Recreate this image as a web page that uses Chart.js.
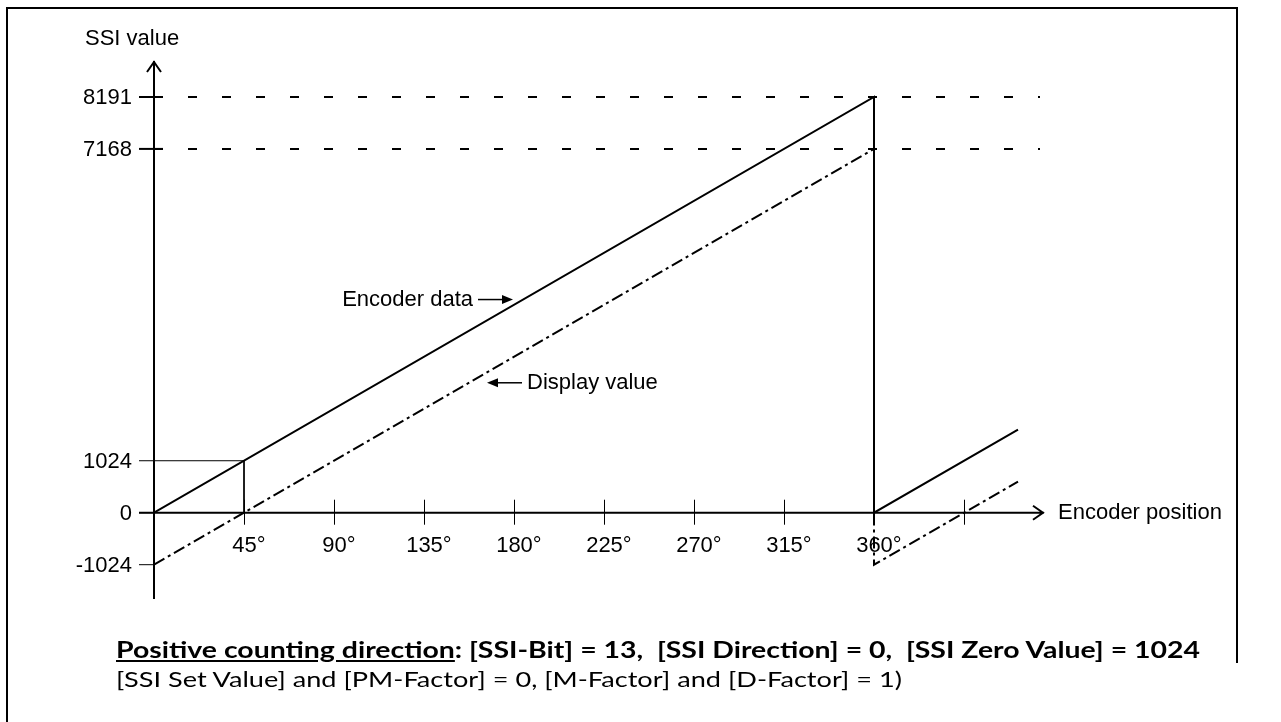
<!DOCTYPE html>
<html>
<head>
<meta charset="utf-8">
<script src="https://cdn.jsdelivr.net/npm/chart.js@4.4.0/dist/chart.umd.min.js"></script>
<style>
  html, body { margin: 0; padding: 0; background: #fff; }
  #wrap { position: relative; width: 1281px; height: 722px; overflow: hidden; }
  #box { position: absolute; left: 0; top: 0; width: 1281px; height: 722px; }
  .cap { position: absolute; left: 116px; white-space: nowrap; color: #000; line-height: normal;
         font-family: Lato, "Open Sans", sans-serif; transform-origin: 0 0; }
</style>
</head>
<body>
<div id="wrap">
  <div id="box"><canvas id="chart"></canvas></div>
  <div class="cap" id="cap1" data-w="1084" style="top:635px;font-size:23px;font-weight:bold"><u>Positive counting direction</u>: [SSI-Bit] = 13,&nbsp; [SSI Direction] = 0,&nbsp; [SSI Zero Value] = 1024</div>
  <div class="cap" id="cap2" data-w="786" style="top:665px;font-size:22px">[SSI Set Value] and [PM-Factor] = 0, [M-Factor] and [D-Factor] = 1)</div>
</div>
<script>
// tick values
const angleTicks = [45, 90, 135, 180, 225, 270, 315, 360];
const extraAngleTicks = [405];
const ssiTicks = [-1024, 0, 1024, 7168, 8191];

// series
const encoderX = [0, 360, 360, 432];
const encoderY = [0, 8191, 0, 1638];
const displayX = [0, 360, 360, 432];
const displayY = [-1024, 7168, -1024, 614];
const markX = [0, 45, 45];
const markY = [1024, 1024, 0];
const limitX = [0, 443];
const limitValues = [8191, 7168];

const pts = (xs, ys) => xs.map((x, i) => ({ x: x, y: ys[i] }));
const FONT = '22px "Liberation Sans", Arial, sans-serif';

const limitSets = limitValues.map(v => ({
  data: pts(limitX, limitX.map(() => v)),
  borderColor: '#000', borderWidth: 2, borderDash: [9, 25]
}));

// axes, ticks, labels and annotations
const diagram = {
  id: 'diagram',
  beforeDatasetsDraw(chart) {
    const { ctx, chartArea: a, scales: { x, y } } = chart;
    const x0 = x.getPixelForValue(0), y0 = y.getPixelForValue(0);
    ctx.save();
    ctx.strokeStyle = '#000';
    ctx.fillStyle = '#000';

    // frame
    ctx.lineWidth = 2;
    ctx.beginPath();
    ctx.moveTo(7, 722); ctx.lineTo(7, 8); ctx.lineTo(1237, 8); ctx.lineTo(1237, 663);
    ctx.stroke();

    // y axis with arrow
    ctx.lineWidth = 2;
    ctx.beginPath();
    ctx.moveTo(x0, a.bottom); ctx.lineTo(x0, a.top);
    ctx.moveTo(x0 - 7, a.top + 11); ctx.lineTo(x0, a.top + 1); ctx.lineTo(x0 + 7, a.top + 11);
    ctx.stroke();

    // x axis with arrow
    ctx.beginPath();
    ctx.moveTo(x0 - 15, y0); ctx.lineTo(a.right, y0);
    ctx.moveTo(a.right - 11, y0 - 7); ctx.lineTo(a.right - 1, y0); ctx.lineTo(a.right - 11, y0 + 7);
    ctx.stroke();

    // y ticks + labels
    ctx.font = FONT;
    ctx.textAlign = 'right';
    ctx.textBaseline = 'middle';
    ssiTicks.forEach(v => {
      const py = y.getPixelForValue(v);
      ctx.lineWidth = v >= 7168 ? 2 : 1;
      ctx.beginPath();
      ctx.moveTo(x0 - 15, py); ctx.lineTo(v >= 7168 ? x0 + 9 : x0, py);
      ctx.stroke();
      ctx.fillText(String(v), x0 - 22, py + 1);
    });

    // x ticks + labels
    ctx.lineWidth = 1;
    ctx.textAlign = 'left';
    ctx.textBaseline = 'alphabetic';
    angleTicks.concat(extraAngleTicks).forEach(v => {
      const px = Math.round(x.getPixelForValue(v)) + 0.5;
      ctx.beginPath();
      ctx.moveTo(px, y0 - 13); ctx.lineTo(px, y0 + 12);
      ctx.stroke();
      if (angleTicks.includes(v)) {
        const dw = ctx.measureText(String(v)).width;
        ctx.fillText(v + '°', px - dw / 2, y0 + 39);
      }
    });

    // axis titles
    ctx.fillText('SSI value', 85, 45);
    ctx.textBaseline = 'middle';
    ctx.fillText('Encoder position', a.right + 14, y0);

    // annotations
    const arrow = (fromX, toX, py) => {
      const dir = Math.sign(toX - fromX);
      ctx.lineWidth = 1.5;
      ctx.beginPath();
      ctx.moveTo(fromX, py); ctx.lineTo(toX - dir * 8, py);
      ctx.stroke();
      ctx.beginPath();
      ctx.moveTo(toX, py); ctx.lineTo(toX - dir * 11, py - 4.5); ctx.lineTo(toX - dir * 11, py + 4.5);
      ctx.closePath(); ctx.fill();
    };
    const ex = x.getPixelForValue(179.5), ey = y.getPixelForValue(4200);
    arrow(ex - 35, ex, ey);
    ctx.textAlign = 'right';
    ctx.fillText('Encoder data', ex - 40, ey);
    const dx = x.getPixelForValue(166.5), dy = y.getPixelForValue(2560);
    arrow(dx + 35, dx, dy);
    ctx.textAlign = 'left';
    ctx.fillText('Display value', dx + 40, dy);
    ctx.restore();
  }
};

new Chart(document.getElementById('chart'), {
  type: 'scatter',
  data: {
    datasets: [
      ...limitSets,
      { data: pts(markX, markY), borderColor: '#000', borderWidth: 1 },
      { data: pts(displayX, displayY), borderColor: '#000', borderWidth: 2, borderDash: [12, 4, 3, 4] },
      { data: pts(encoderX, encoderY), borderColor: '#000', borderWidth: 2 }
    ].map(d => Object.assign({ showLine: true, pointRadius: 0, fill: false, tension: 0 }, d))
  },
  options: {
    responsive: true,
    maintainAspectRatio: false,
    animation: false,
    events: [],
    layout: { padding: { left: 154, right: 237, top: 61, bottom: 123 } },
    plugins: { legend: { display: false }, tooltip: { enabled: false } },
    scales: {
      x: { type: 'linear', display: false, min: 0, max: 445 },
      y: { type: 'linear', display: false, min: -1700, max: 8900 }
    }
  },
  plugins: [diagram]
});

// squeeze captions to the reference widths
document.querySelectorAll('.cap').forEach(el => {
  const w = el.getBoundingClientRect().width;
  el.style.transform = 'scaleX(' + (Number(el.dataset.w) / w) + ')';
});
</script>
</body>
</html>
